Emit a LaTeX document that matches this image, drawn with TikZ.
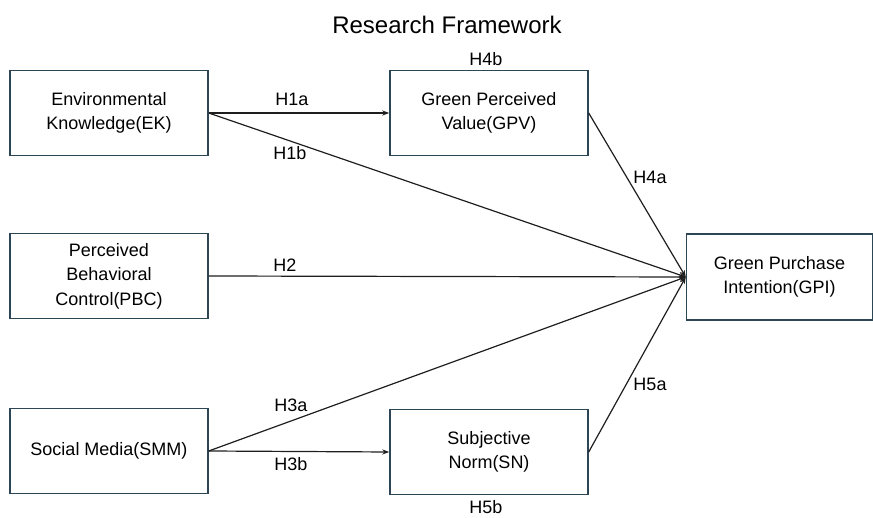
\documentclass[tikz,border=0pt]{standalone}
\usepackage{fontspec}
\setmainfont{Liberation Sans}
\usetikzlibrary{arrows.meta}
\definecolor{boxline}{RGB}{45,70,85}
\definecolor{linkline}{RGB}{30,30,30}
\tikzset{
  var/.style={draw=boxline,line width=1.4pt,minimum width=198pt,minimum height=85pt,
    align=center,inner sep=0pt,font=\fontsize{18}{24.5}\selectfont},
  link/.style={draw=linkline,line width=1.2pt},
  hyp/.style={inner sep=0pt,font=\fontsize{18}{22}\selectfont}
}
\begin{document}
\begin{tikzpicture}[x=1pt,y=-1pt,>={Stealth[length=7pt,width=5pt]}]
  \useasboundingbox (0,0) rectangle (873,518);
  \node[font=\fontsize{24}{28}\selectfont] (title) at (447,25) {Research Framework};
  \node[var] (ek) at (109,113) {Environmental\\Knowledge(EK)};
  \node[var] (gpv) at (489,113) {Green Perceived\\Value(GPV)};
  \node[var] (pbc) at (109,276) {Perceived\\Behavioral\\Control(PBC)};
  \node[var,minimum width=186pt,minimum height=86pt] (gpi) at (779.5,277) {Green Purchase\\Intention(GPI)};
  \node[var] (smm) at (109,451) {Social Media(SMM)};
  \node[var] (sn) at (489,452) {Subjective\\Norm(SN)};
  \draw[link,->] (ek.east) -- (gpv.west);
  \draw[link,->] (ek.east) -- (gpi.west);
  \draw[link,->] (pbc.east) -- (gpi.west);
  \draw[link,->] (smm.east) -- (gpi.west);
  \draw[link,->] (smm.east) -- (sn.west);
  \draw[link,->] (gpv.east) -- (gpi.west);
  \draw[link,->] (sn.east) -- (gpi.west);
  \node[hyp] (h1a) at (292,99) {H1a};
  \node[hyp] (h1b) at (290,153) {H1b};
  \node[hyp] (h2) at (285,265) {H2};
  \node[hyp] (h3a) at (291,405) {H3a};
  \node[hyp] (h3b) at (291,464) {H3b};
  \node[hyp] (h4a) at (650,177) {H4a};
  \node[hyp] (h5a) at (650,384) {H5a};
  \node[hyp] (h4b) at (486,59) {H4b};
  \node[hyp] (h5b) at (486,507) {H5b};
\end{tikzpicture}
\end{document}
